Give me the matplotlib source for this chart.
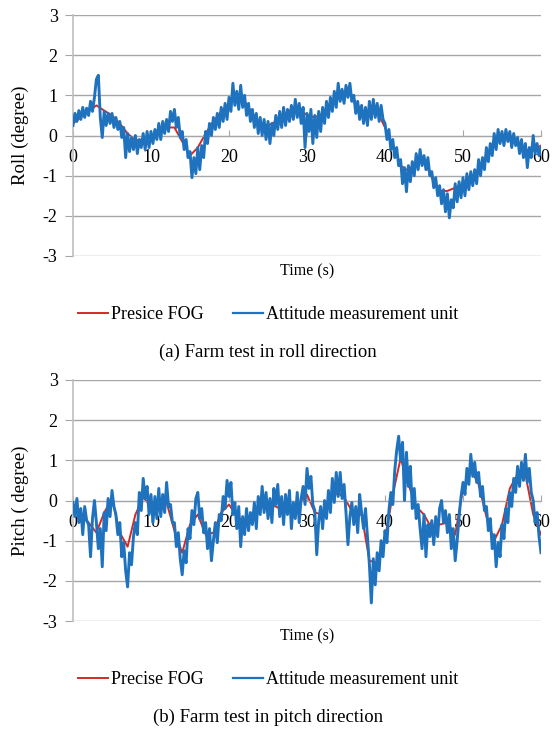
import numpy as np
import matplotlib.pyplot as plt
from matplotlib.lines import Line2D

plt.rcParams["font.family"] = ["Liberation Serif", "DejaVu Serif"]
plt.rcParams["axes.unicode_minus"] = False

# ── data ──────────────────────────────────────────────────────────────────
t_fog = list(range(61))               # precise FOG sampled every 1 s
t_imu = [i * 0.25 for i in range(241)]  # attitude unit sampled every 0.25 s

roll_fog = [
    0.30, 0.45, 0.60, 0.75, 0.62, 0.50, 0.30, 0.05, -0.12, -0.10,
    -0.05, 0.10, 0.20, 0.20, -0.15, -0.50, -0.30, 0.05, 0.35, 0.60,
    0.80, 0.92, 0.85, 0.55, 0.30, 0.25, 0.35, 0.50, 0.65, 0.62,
    0.52, 0.45, 0.55, 0.80, 1.00, 1.12, 0.90, 0.62, 0.58, 0.60,
    0.20, -0.25, -0.75, -0.88, -0.65, -0.62, -1.05, -1.38, -1.38, -1.30,
    -1.20, -1.10, -0.90, -0.50, -0.25, -0.02, 0.00, -0.15, -0.35, -0.38,
    -0.25,
]

roll_imu = [
    0.25, 0.55, 0.35, 0.62,   0.40, 0.70, 0.45, 0.68,   0.50, 0.85, 0.60, 0.95,
    1.40, 1.50, 0.45, -0.05,  0.60, 0.25, 0.55, 0.30,   0.55, 0.20, 0.45, 0.15,
    0.35, -0.05, 0.20, -0.55, 0.05, -0.40, -0.05, -0.35, 0.00, -0.45, -0.10, -0.30,
    0.05, -0.35, 0.10, -0.30, 0.10, -0.20, 0.15, -0.10,  0.30, -0.10, 0.35, 0.05,
    0.40, 0.10, 0.60, 0.35,   0.65, 0.20, 0.45, -0.05,  0.10, -0.35, -0.10, -0.55,
    -0.40, -1.05, -0.55, -0.95, -0.30, -0.85, -0.25, -0.55, 0.10, -0.20, 0.30, 0.00,
    0.45, 0.15, 0.55, 0.20,   0.70, 0.35, 0.80, 0.40,   0.95, 0.60, 1.30, 0.75,
    1.10, 0.65, 1.25, 0.70,   1.00, 0.50, 0.80, 0.35,   0.65, 0.20, 0.55, 0.05,
    0.45, 0.00, 0.40, -0.10,  0.35, -0.20, 0.30, 0.00,  0.50, 0.15, 0.60, 0.20,
    0.70, 0.25, 0.65, 0.35,   0.75, 0.40, 0.90, 0.45,   0.80, 0.30, 0.70, -0.30,
    0.55, 0.10, 0.65, -0.20,  0.50, -0.05, 0.60, 0.10,  0.70, 0.30, 0.85, 0.45,
    0.95, 0.60, 1.10, 0.70,   1.30, 0.85, 1.15, 0.80,   1.25, 0.95, 1.30, 0.85,
    1.00, 0.55, 0.85, 0.40,   0.75, 0.30, 0.70, 0.25,   0.85, 0.40, 0.90, 0.45,
    0.80, 0.35, 0.75, 0.40,   0.30, -0.10, 0.15, -0.35, -0.10, -0.55, -0.30, -0.75,
    -0.60, -1.20, -0.80, -1.40, -0.75, -1.15, -0.65, -1.00, -0.45, -0.85, -0.35, -0.75,
    -0.50, -0.85, -0.55, -1.00, -0.90, -1.30, -1.05, -1.50, -1.25, -1.70, -1.35, -1.90,
    -1.45, -2.05, -1.60, -1.80, -1.20, -1.65, -1.15, -1.55, -1.05, -1.50, -0.95, -1.35,
    -0.90, -1.25, -0.85, -1.20, -0.60, -1.00, -0.55, -0.85, -0.30, -0.65, -0.20, -0.50,
    0.05, -0.35, 0.15, -0.20,  0.10, -0.25, 0.15, -0.15, 0.10, -0.30, 0.05, -0.25,
    -0.05, -0.45, -0.10, -0.55, -0.20, -0.80, -0.30, -0.55, 0.00, -0.45, -0.20, -0.50,
    -0.30,
]

pitch_fog = [
    -0.10, -0.30, -0.55, -0.80, -0.30, 0.05, -0.80, -1.15, -0.35, 0.08,
    -0.15, -0.10, -0.05, -0.75, -1.30, -0.60, -0.35, -0.85, -0.80, -0.30,
    -0.10, -0.40, -0.52, -0.40, -0.20, -0.10, -0.15, -0.25, -0.25, -0.05,
    0.15, -0.30, -0.35, 0.05, 0.20, 0.00, -0.35, -0.35, -1.50, -1.55,
    -0.95, 0.15, 1.05, 0.40, -0.15, -0.35, -0.70, -0.60, -0.55, -0.85,
    0.30, 0.78, 0.40, -0.40, -1.00, -0.60, 0.30, 0.65, 0.65, -0.35,
    -0.85,
]

pitch_imu = [
    -0.05, -0.40, 0.05, -0.55, -0.20, -0.85, -0.15, -0.50, -0.60, -1.40, -0.45, 0.00,
    -0.55, -1.20, -0.70, -1.65, -0.30, -0.75, 0.05, -0.40,  0.25, -0.15, -0.35, -0.85,
    -0.55, -1.40, -1.05, -1.75, -2.15, -1.30, -1.60, -0.90, -0.55, -0.85, 0.20, -0.25,
    0.55, 0.05, 0.35, -0.35,  0.15, -0.55, 0.10, -0.45,  0.30, -0.40, 0.15, -0.30,
    0.45, -0.15, -0.10, -0.55, -0.55, -1.15, -0.80, -1.45, -1.85, -1.25, -1.55, -0.70,
    -0.95, -0.25, -0.60, 0.05, 0.20, -0.45, -0.20, -0.80, -0.55, -1.20, -0.70, -1.50,
    -1.00, -0.55, -1.05, -0.35, -0.50, 0.10, -0.20, 0.50,  0.10, 0.45, -0.35, -0.05,
    -0.70, -0.15, -1.15, -0.40, -0.85, -0.20, -0.75, -0.30, -0.60, -0.05, -0.70, 0.10,
    -0.35, 0.35, -0.30, 0.20, -0.45, 0.05, -0.55, 0.30,  -0.10, 0.40, -0.40, 0.10,
    -0.60, 0.15, -0.35, 0.25, -0.70, -0.05, -0.45, 0.20, -0.55, 0.05, 0.35, -0.10,
    0.80, 0.30, 0.60, -0.10,  -0.25, -1.35, -0.50, -0.15, -0.70, 0.00, -0.45, 0.25,
    -0.30, 0.55, -0.05, 0.70,  0.10, 0.70, 0.05, 0.40,  -0.30, -1.10, -0.40, -0.05,
    -0.60, -0.15, -0.80, 0.15, -0.30, -0.70, -0.20, -0.90, -1.60, -2.55, -1.45, -2.10,
    -1.30, -1.75, -1.00, -1.40, -0.75, -1.05, -0.25, 0.20, -0.10, 0.75, 1.25, 1.60,
    1.00, 1.45, 0.00, 1.20,   0.35, 0.85, -0.20, 0.30,  -0.45, -0.10, -0.70, -1.20,
    -0.35, -1.40, -0.60, -0.90, -0.50, -1.10, -0.40, -0.90, -0.20, 0.00, -0.55, -0.25,
    -0.80, -0.35, -1.20, -0.70, -1.50, -1.00, -0.40, 0.10,  0.45, 0.15, 0.80, 0.40,
    1.15, 0.60, 0.95, 0.45,   0.70, 0.10, 0.35, -0.25,  -0.15, -0.75, -0.45, -1.20,
    -0.85, -1.65, -1.05, -1.40, -0.60, -0.95, -0.20, -0.55, 0.20, -0.15, 0.55, 0.20,
    0.85, 0.35, 0.95, 0.50,   1.15, 0.45, 0.80, 0.20,   0.00, -0.55, -0.30, -0.90,
    -1.30,
]

panels = [
    ("Roll (degree)", roll_fog, roll_imu, "Presice FOG",
     "(a) Farm test in roll direction"),
    ("Pitch ( degree)", pitch_fog, pitch_imu, "Precise FOG",
     "(b) Farm test in pitch direction"),
]

RED = "#d42a24"
BLUE = "#1f72bd"
GRID = "#a6a6a6"

fig = plt.figure(figsize=(5.53, 7.29), dpi=100)
W, H = 553, 729

# axes boxes in pixels: (top, bottom)
boxes = [(15, 256), (380, 621)]
x0, x1 = 73, 541

for (ylab, fog, imu, fog_lab, caption), (top, bot) in zip(panels, boxes):
    ax = fig.add_axes([x0 / W, 1 - bot / H, (x1 - x0) / W, (bot - top) / H])
    ax.plot(t_fog, fog, color=RED, lw=1.4, zorder=2)
    ax.plot(t_imu, imu, color=BLUE, lw=2.1, zorder=3)

    ax.set_xlim(0, 60)
    ax.set_ylim(-3, 3)
    ax.set_yticks(range(-3, 4))
    ax.set_xticks(range(0, 61, 10))
    ax.grid(axis="y", color=GRID, lw=1.0)
    ax.set_axisbelow(True)

    for s in ("top", "right"):
        ax.spines[s].set_visible(False)
    ax.spines["left"].set_color("#bfbfbf")
    ax.spines["left"].set_linewidth(1.2)
    ax.spines["bottom"].set_position(("data", 0))
    ax.spines["bottom"].set_color(GRID)
    ax.tick_params(axis="y", direction="out", length=6, color=GRID,
                   labelsize=13, pad=5)
    ax.tick_params(axis="x", direction="in", length=4, color=GRID,
                   labelsize=13, pad=10)

    ax.set_ylabel(ylab, fontsize=13.5, labelpad=2)
    ax.yaxis.set_label_coords(-0.095, 0.5)

    fig.text(0.5 * (x0 + x1) / W, 1 - (bot + 15) / H, "Time (s)",
             ha="center", va="center", fontsize=11.5)
    handles = [Line2D([], [], color=RED, lw=1.4),
               Line2D([], [], color=BLUE, lw=1.6)]
    fig.legend(handles, [fog_lab, "Attitude measurement unit"],
               loc="center", bbox_to_anchor=(268 / W, 1 - (bot + 59) / H),
               ncol=2, frameon=False, fontsize=13, handlelength=1.7,
               handletextpad=0.15, columnspacing=1.6)
    fig.text(268 / W, 1 - (bot + 96) / H, caption,
             ha="center", va="center", fontsize=13.5)

fig.savefig("out.png", dpi=100)
